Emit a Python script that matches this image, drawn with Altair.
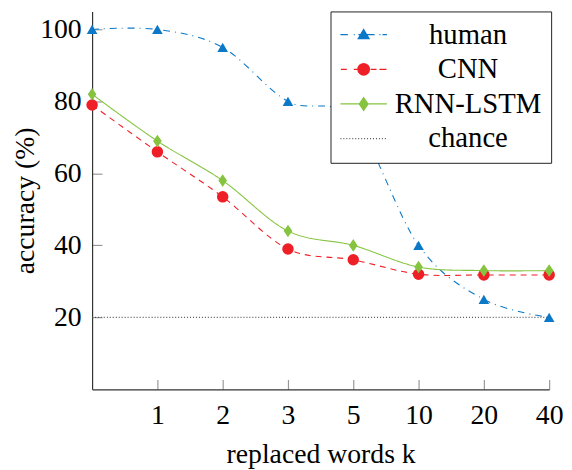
import math
import altair as alt
import pandas as pd

# ---------------- data ----------------
k_labels = ["0", "1", "2", "3", "5", "10", "20", "40"]
series_names = ["human", "CNN", "RNN-LSTM", "chance"]
human = [100, 100, 95, 80, 75, 40, 25, 20]
cnn = [79, 66, 53.5, 39, 36, 32, 31.8, 31.8]
rnn = [82, 69, 58, 44, 40, 34, 33, 33]
chance = [20, 20, 20, 20, 20, 20, 20, 20]
y_ticks = [20, 40, 60, 80, 100]

# ---------------- styles ----------------
colors = ["#0c78c8", "#ee1f27", "#86c440", "#555555"]
dashes = [[7, 5, 1, 5], [6, 5], [1, 0], [1, 2]]
markers = [("triangle-up", 115), ("circle", 135), ("M0,-1L0.68,0L0,1L-0.68,0Z", 165), None]
FONT = "Liberation Serif"
FS = 28

rows = []
for name, vals in zip(series_names, [human, cnn, rnn, chance]):
    for k, v in zip(k_labels, vals):
        rows.append({"k": k, "acc": v, "series": name})
df = pd.DataFrame(rows)

# ---------- legend symbol paths (line + marker), unit = sqrt(size)/2 ----------
def seg(a, b):
    return f"M{a:.3f},0H{b:.3f}"

def scan(y0, y1, halfw, cx=0.0, step=0.07):
    out = []
    y = y0
    while y <= y1 + 1e-9:
        h = halfw(y)
        if h > 0:
            out.append(f"M{cx - h:.3f},{y:.3f}H{cx + h:.3f}")
        y += step
    return "".join(out)

tri = (scan(-0.45, 0.33, lambda y: 0.47 * (y + 0.45) / 0.78)
       + "M0,-0.45L0.47,0.33L-0.47,0.33Z")
circ = (scan(-0.48, 0.48, lambda y: math.sqrt(max(0.0, 0.5 ** 2 - y ** 2)))
        + "M0.5,0A0.5,0.5 0 1,1 -0.5,0A0.5,0.5 0 1,1 0.5,0Z")
dia = (scan(-0.55, 0.55, lambda y: 0.38 * (1 - abs(y) / 0.55))
       + "M0,-0.55L0.38,0L0,0.55L-0.38,0Z")
dots = "".join(seg(-2 + i * 0.255, -2 + i * 0.255 + 0.085) for i in range(16))

legend_paths = [
    seg(-2.0, -1.36) + seg(-0.85, -0.77) + seg(-0.45, 0.94) + seg(1.36, 1.45) + seg(1.62, 2.0) + tri,
    seg(-1.96, -1.45) + seg(-0.85, -0.43) + seg(-0.43, 0.43) + seg(0.6, 1.11) + seg(1.36, 1.96) + circ,
    seg(-2.0, 2.0) + dia,
    dots,
]

x_enc = alt.X(
    "k:N",
    sort=k_labels,
    scale=alt.Scale(domain=k_labels, type="point", padding=0),
    axis=alt.Axis(
        values=k_labels[1:], title="replaced words k", labelAngle=0,
        tickSize={"expr": "-10"}, labelPadding=22, titlePadding=12,
    ),
)
y_enc = alt.Y(
    "acc:Q",
    scale=alt.Scale(domain=[0, 105], nice=False, zero=False),
    axis=alt.Axis(
        values=y_ticks, title="accuracy (%)", tickSize={"expr": "-10"},
        labelPadding=21, titlePadding=0,
    ),
)

base = alt.Chart(df)

layers = []
# legend carrier: no data drawn, only provides the legend
legend_def = dict(
    title=None, orient="none", legendX=241, legendY=0,
    labelFont=FONT, labelFontSize=29, labelColor="black",
    labelAlign="center", labelOffset=91, labelBaseline="middle",
    symbolSize=552, symbolStrokeWidth=1.2, symbolOffset=10, symbolOpacity=1,
    padding=9, rowPadding=5,
    strokeColor="#222222", fillColor="white",
)
layers.append(
    base.transform_filter("false").mark_point(filled=False, strokeWidth=1.2, opacity=1).encode(
        x=x_enc, y=y_enc,
        color=alt.Color("series:N", scale=alt.Scale(domain=series_names, range=colors),
                        legend=alt.Legend(**legend_def)),
        shape=alt.Shape("series:N", scale=alt.Scale(domain=series_names, range=legend_paths),
                        legend=alt.Legend(**legend_def)),
    )
)

for name, col, dash in zip(series_names, colors, dashes):
    layers.append(
        base.transform_filter(alt.datum.series == name)
        .mark_line(interpolate="cardinal", strokeWidth=1.1, color=col, strokeDash=dash)
        .encode(x=x_enc, y=y_enc)
    )
for name, col, mk in zip(series_names, colors, markers):
    if mk is None:
        continue
    shape, size = mk
    layers.append(
        base.transform_filter(alt.datum.series == name)
        .mark_point(filled=True, shape=shape, size=size, opacity=1, color=col)
        .encode(x=x_enc, y=y_enc)
    )

chart = alt.layer(*layers).properties(
    width=462,
    height=382,
    autosize=alt.AutoSizeParams(type="none"),
    padding={"left": 85, "top": 1, "right": 15, "bottom": 78},
).configure_view(stroke=None).configure_axis(
    grid=False,
    labelFont=FONT, labelFontSize=FS, labelColor="black",
    titleFont=FONT, titleFontSize=FS, titleColor="black", titleFontWeight="normal",
    domainColor="#333333", domainWidth=1.2,
    tickColor="#999999", tickWidth=1.2,
)

chart.save("out.html", embed_options={"renderer": "svg", "actions": False})
